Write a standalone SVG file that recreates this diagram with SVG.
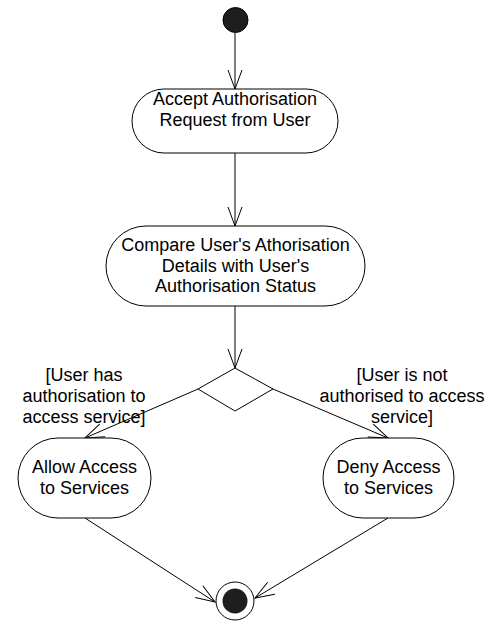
<svg xmlns="http://www.w3.org/2000/svg" width="487" height="621" viewBox="0 0 487 621">
<style>
.node{fill:#fff;stroke:#000;stroke-width:1}
.txt{font-family:"Liberation Sans",Arial,sans-serif;font-size:18px;fill:#000;text-anchor:middle}
.edge{fill:none;stroke:#000;stroke-width:1}
</style>
<defs>
<marker id="arr" viewBox="-21 -9 22 18" refX="0" refY="0" markerWidth="22" markerHeight="18" markerUnits="userSpaceOnUse" orient="auto">
<path d="M-19,-7 L0,0 L-19,7" fill="none" stroke="#000" stroke-width="1"/>
</marker>
</defs>
<rect width="487" height="621" fill="#fff"/>
<g id="connectors">
<line class="edge" x1="235" y1="33" x2="235" y2="89" marker-end="url(#arr)"/>
<line class="edge" x1="235" y1="153" x2="235" y2="226" marker-end="url(#arr)"/>
<line class="edge" x1="235" y1="306" x2="235" y2="368" marker-end="url(#arr)"/>
<line class="edge" x1="198" y1="389" x2="85" y2="438" marker-end="url(#arr)"/>
<line class="edge" x1="273" y1="389" x2="388" y2="438" marker-end="url(#arr)"/>
<line class="edge" x1="85" y1="518" x2="215" y2="602" marker-end="url(#arr)"/>
<line class="edge" x1="388" y1="518" x2="255" y2="598" marker-end="url(#arr)"/>
<text class="txt" x="84" y="381">[User has</text>
<text class="txt" x="84" y="402">authorisation to</text>
<text class="txt" x="84" y="423">access service]</text>
<text class="txt" x="402" y="381">[User is not</text>
<text class="txt" x="402" y="402">authorised to access</text>
<text class="txt" x="402" y="423">service]</text>
</g>
<g id="start">
<circle cx="235.5" cy="20" r="12.5" fill="#1e1e1e" stroke="#000"/>
</g>
<g id="accept">
<rect class="node" x="132" y="89" width="206" height="64" rx="32" ry="32"/>
<text class="txt" x="235" y="105">Accept Authorisation</text>
<text class="txt" x="235" y="126">Request from User</text>
</g>
<g id="compare">
<rect class="node" x="106" y="226" width="259" height="80" rx="40" ry="40"/>
<text class="txt" x="235.5" y="251">Compare User's Athorisation</text>
<text class="txt" x="235.5" y="272">Details with User's</text>
<text class="txt" x="235.5" y="292">Authorisation Status</text>
</g>
<g id="decision">
<polygon class="node" points="235,368 273,389 235,411 198,389"/>
</g>
<g id="allow">
<rect class="node" x="18" y="438" width="133" height="80" rx="40" ry="40"/>
<text class="txt" x="84.5" y="473">Allow Access</text>
<text class="txt" x="84.5" y="494">to Services</text>
</g>
<g id="deny">
<rect class="node" x="323" y="438" width="131" height="80" rx="40" ry="40"/>
<text class="txt" x="388.5" y="473">Deny Access</text>
<text class="txt" x="388.5" y="494">to Services</text>
</g>
<g id="end">
<circle cx="235" cy="601" r="19" fill="#fff" stroke="#000"/>
<circle cx="235" cy="601" r="12.5" fill="#1e1e1e"/>
</g>
</svg>
